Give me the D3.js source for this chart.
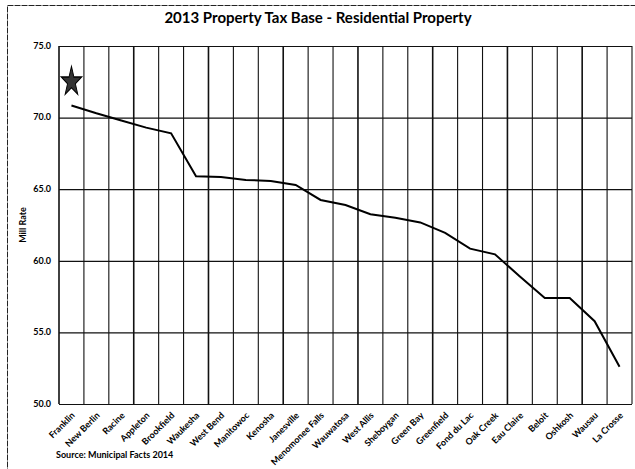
<!DOCTYPE html>
<html>
<head>
<meta charset="utf-8">
<script src="https://cdn.jsdelivr.net/npm/d3@7"></script>
<style>
  body { margin: 0; background: #fff; }
  svg { font-family: Lato, "Open Sans", "Liberation Sans", sans-serif; }
</style>
</head>
<body>
<svg id="plot"></svg>
<script>
// municipalities, highest to lowest mill rate
var cities = ['Franklin', 'New Berlin', 'Racine', 'Appleton', 'Brookfield', 'Waukesha',
  'West Bend', 'Manitowoc', 'Kenosha', 'Janesville', 'Menomonee Falls', 'Wauwatosa',
  'West Allis', 'Sheboygan', 'Green Bay', 'Greenfield', 'Fond du Lac', 'Oak Creek',
  'Eau Claire', 'Beloit', 'Oshkosh', 'Wausau', 'La Crosse'];

var millRates = [70.85, 70.3, 69.8, 69.3, 68.9, 65.9, 65.85, 65.65, 65.57, 65.3, 64.25, 63.9,
  63.25, 63.0, 62.68, 61.95, 60.85, 60.45, 58.9, 57.4, 57.4, 55.78, 52.6];

var yTicks = [50, 55, 60, 65, 70, 75];

// hand drawn star on the scan, sitting above Franklin
var starCity = 'Franklin';
var starValue = 72.5;

var width = 635, height = 469;
var margin = {top: 46, right: 3, bottom: 65, left: 59};

var svg = d3.select('#plot')
  .attr('width', width)
  .attr('height', height);

// outer frame of the scanned chart
svg.append('rect')
  .attr('x', 7.5).attr('y', 5.5)
  .attr('width', 640).attr('height', 480)
  .attr('fill', 'none')
  .attr('stroke', '#222')
  .attr('stroke-width', 1)
  .attr('stroke-dasharray', '6,1');

var xScale = d3.scaleBand()
  .domain(cities)
  .range([margin.left, width - margin.right]);

var yScale = d3.scaleLinear()
  .domain([50, 75])
  .range([height - margin.bottom, margin.top]);

// horizontal gridlines
svg.append('g')
  .attr('transform', 'translate(' + margin.left + ',0)')
  .call(d3.axisLeft(yScale).tickValues(yTicks).tickSize(-(width - margin.right - margin.left)).tickFormat(''))
  .call(g => g.select('.domain').remove())
  .selectAll('line')
    .attr('stroke', '#111')
    .attr('stroke-width', 1.2);

// vertical gridlines on the band edges
var edges = cities.map(c => xScale(c)).concat([width - margin.right]);
svg.selectAll('.vgrid')
  .data(edges)
  .enter().append('line')
    .attr('class', 'vgrid')
    .attr('x1', d => d).attr('x2', d => d)
    .attr('y1', yScale(75)).attr('y2', yScale(50))
    .attr('stroke', '#111')
    .attr('stroke-width', (d, i) => i % 3 === 0 ? 1.6 : 1.1);

// y tick labels
svg.selectAll('.ylab')
  .data(yTicks)
  .enter().append('text')
    .attr('class', 'ylab')
    .attr('x', margin.left - 8)
    .attr('y', d => yScale(d))
    .attr('dy', '0.32em')
    .attr('text-anchor', 'end')
    .style('font-size', '9px')
    .style('font-weight', 'bold')
    .text(d => d3.format('.1f')(d));

// x labels, rotated
svg.selectAll('.xlab')
  .data(cities)
  .enter().append('text')
    .attr('class', 'xlab')
    .attr('transform', d => 'translate(' + (xScale(d) + xScale.bandwidth() / 2 + 4) + ',' + (yScale(50) + 12) + ') rotate(-45)')
    .attr('text-anchor', 'end')
    .style('font-size', '9px')
    .style('font-weight', 'bold')
    .text(d => d);

// the mill rate line
var line = d3.line()
  .x((d, i) => xScale(cities[i]) + xScale.bandwidth() / 2)
  .y(d => yScale(d));

svg.append('path')
  .datum(millRates)
  .attr('d', line)
  .attr('fill', 'none')
  .attr('stroke', '#000')
  .attr('stroke-width', 2);

// star
svg.append('path')
  .attr('d', d3.symbol().type(d3.symbolStar).size(160)())
  .attr('transform', 'translate(' + (xScale(starCity) + xScale.bandwidth() / 2) + ',' + yScale(starValue) + ') scale(0.9,1.3)')
  .attr('fill', '#333')
  .attr('stroke', '#000')
  .attr('stroke-width', 1);

// title
svg.append('text')
  .attr('x', 318)
  .attr('y', 23)
  .attr('text-anchor', 'middle')
  .style('font-size', '15px')
  .style('font-weight', 'bold')
  .text('2013 Property Tax Base - Residential Property');

// y axis title
svg.append('text')
  .attr('transform', 'translate(26,' + yScale(62.5) + ') rotate(-90)')
  .attr('text-anchor', 'middle')
  .style('font-size', '9px')
  .style('font-weight', 'bold')
  .text('Mill Rate');

// source note
svg.append('text')
  .attr('x', 56)
  .attr('y', 458)
  .style('font-size', '9px')
  .style('font-weight', 'bold')
  .text('Source: Municipal Facts 2014');
</script>
</body>
</html>
